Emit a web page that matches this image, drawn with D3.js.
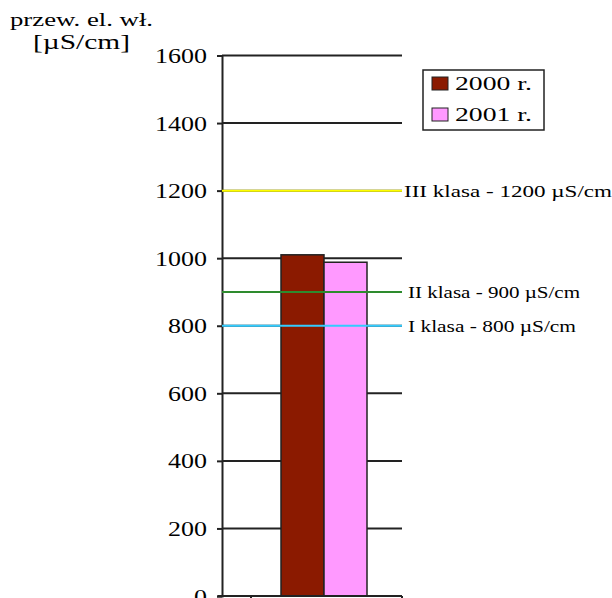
<!DOCTYPE html>
<html><head><meta charset="utf-8">
<script src="https://cdn.jsdelivr.net/npm/d3@7"></script>
<style>body{margin:0;background:#fff}svg{display:block}text{font-family:"Liberation Serif","Times New Roman",serif;fill:#000}</style>
</head><body><svg id="c" width="612" height="598"></svg>
<script>
const categories = ["2000 r.", "2001 r."];
const values = [1010, 988];
const colors = ["#8B1A00", "#FF99FF"];
const yTicks = [0, 200, 400, 600, 800, 1000, 1200, 1400, 1600];
const thresholds = [1200, 900, 800];
const thresholdLabels = ["III klasa - 1200 µS/cm", "II klasa - 900 µS/cm", "I klasa - 800 µS/cm"];
const thresholdColors = ["#FFFF00", "#2E8B2E", "#33CCFF"];
const titleLines = ["przew. el. wł.", "[µS/cm]"];

const svg = d3.select("#c");
const L = 222, R = 402, T = 55.5, B = 596;
const y = d3.scaleLinear().domain([0, 1600]).range([B, T]);
const x = d3.scaleBand().domain(categories).range([281, 367]).padding(0);

// gridlines
svg.append("g").selectAll("line").data(yTicks.filter(d => d > 0)).join("line")
  .attr("x1", L).attr("x2", R).attr("y1", d => y(d)).attr("y2", d => y(d))
  .attr("stroke", "#222").attr("stroke-width", 2);

// y axis
const ya = svg.append("g").attr("transform", `translate(${L},0)`)
  .call(d3.axisLeft(y).tickValues(yTicks).tickSize(5).tickPadding(10).tickFormat(d3.format("d")));
ya.select(".domain").attr("stroke", "#222").attr("stroke-width", 2);
ya.selectAll(".tick line").attr("stroke", "#222").attr("stroke-width", 2);
ya.selectAll(".tick text").style("font-family", "Liberation Serif, serif").style("font-size", "20px")
  .attr("dy", "0.35em").attr("fill", "#000")
  .each(function(d){ const n = String(d).length; d3.select(this).attr("textLength", n * 13).attr("lengthAdjust", "spacingAndGlyphs"); });

// bars
svg.append("g").selectAll("rect").data(values).join("rect")
  .attr("x", (d, i) => x(categories[i])).attr("width", x.bandwidth())
  .attr("y", d => y(d)).attr("height", d => B - y(d))
  .attr("fill", (d, i) => colors[i]).attr("stroke", "#222").attr("stroke-width", 1.5);

// threshold lines
thresholds.forEach((t, i) => {
  svg.append("line").attr("x1", L).attr("x2", R).attr("y1", y(t)).attr("y2", y(t))
    .attr("stroke", thresholdColors[i]).attr("stroke-width", 2);
});
const tlX = [404, 408, 408];
const tlW = [208, 172, 168];
thresholds.forEach((t, i) => {
  svg.append("text").attr("x", tlX[i]).attr("y", y(t) + 6).style("font-size", "17px")
    .attr("textLength", tlW[i]).attr("lengthAdjust", "spacingAndGlyphs").text(thresholdLabels[i]);
});

// x axis
svg.append("line").attr("x1", L - 4).attr("x2", R).attr("y1", B).attr("y2", B).attr("stroke", "#222").attr("stroke-width", 2);
[251, R].forEach(px => svg.append("line").attr("x1", px).attr("x2", px).attr("y1", B).attr("y2", B + 5).attr("stroke", "#222").attr("stroke-width", 2));

// title
svg.append("text").attr("x", 10).attr("y", 26).style("font-size", "18px").attr("textLength", 143).attr("lengthAdjust", "spacingAndGlyphs").text(titleLines[0]);
svg.append("text").attr("x", 33).attr("y", 49).style("font-size", "20px").attr("textLength", 97).attr("lengthAdjust", "spacingAndGlyphs").text(titleLines[1]);

// legend
const lg = svg.append("g");
lg.append("rect").attr("x", 423).attr("y", 70).attr("width", 121).attr("height", 60).attr("fill", "#fff").attr("stroke", "#222").attr("stroke-width", 1.5);
categories.forEach((c, i) => {
  const yy = 77 + i * 31;
  lg.append("rect").attr("x", 432).attr("y", yy).attr("width", 16).attr("height", 13).attr("fill", colors[i]).attr("stroke", "#222").attr("stroke-width", 1);
  lg.append("text").attr("x", 455).attr("y", yy + 13).style("font-size", "18px").attr("textLength", 77).attr("lengthAdjust", "spacingAndGlyphs").text(c);
});
</script></body></html>
